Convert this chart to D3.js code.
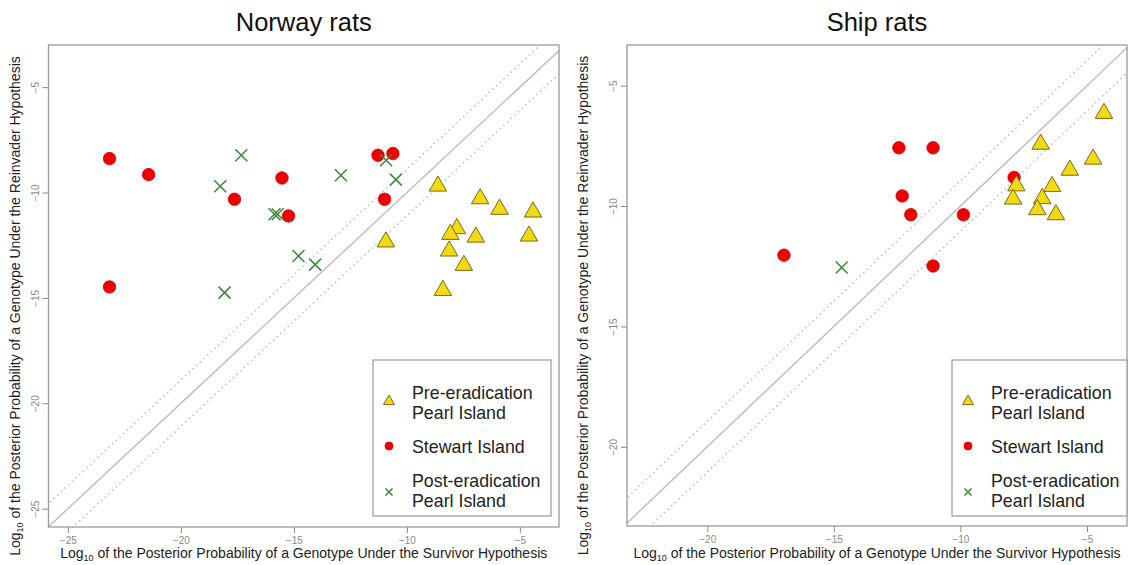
<!DOCTYPE html>
<html><head><meta charset="utf-8">
<script src="https://cdn.jsdelivr.net/npm/d3@7"></script>
<style>body{margin:0;background:#fff}svg{display:block;font-family:"Liberation Sans",Arial,sans-serif}</style>
</head><body><svg id="c" width="1129" height="565"></svg>
<script>
// ---- data (log10 posterior probabilities) ----
const panelTitles = ["Norway rats", "Ship rats"];
const legendLabels = [["Pre-eradication","Pearl Island"],["Stewart Island"],["Post-eradication","Pearl Island"]];
const xLabel = "of the Posterior Probability of a Genotype Under the Survivor Hypothesis";
const yLabel = "of the Posterior Probability of a Genotype Under the Reinvader Hypothesis";

const norwayPre = [[-8.63,-9.66],[-6.76,-10.26],[-5.90,-10.76],[-4.42,-10.89],[-7.79,-11.68],[-8.08,-11.95],
  [-6.95,-12.08],[-4.60,-12.03],[-10.93,-12.31],[-8.13,-12.74],[-7.48,-13.42],[-8.41,-14.61]];
const norwayStewart = [[-23.16,-8.39],[-21.43,-9.15],[-17.63,-10.32],[-15.53,-9.31],[-15.24,-11.11],
  [-11.28,-8.23],[-10.62,-8.15],[-10.99,-10.32],[-23.16,-14.48]];
const norwayPost = [[-17.33,-8.23],[-18.26,-9.70],[-15.86,-11.03],[-15.72,-11.03],[-14.80,-13.01],
  [-14.06,-13.42],[-18.07,-14.75],[-10.92,-8.47],[-12.92,-9.18],[-10.49,-9.39]];

const shipPre = [[-4.33,-6.12],[-6.83,-7.40],[-4.76,-8.02],[-5.68,-8.48],[-7.79,-9.13],[-6.38,-9.16],
  [-7.92,-9.68],[-6.77,-9.66],[-6.96,-10.12],[-6.23,-10.33]];
const shipStewart = [[-12.43,-7.58],[-11.08,-7.58],[-12.30,-9.58],[-11.96,-10.36],[-9.88,-10.36],
  [-11.08,-12.49],[-7.88,-8.81],[-16.97,-12.04]];
const shipPost = [[-14.69,-12.55]];

const norwayTicks = [-25,-20,-15,-10,-5];
const shipTicks = [-20,-15,-10,-5];
const bandOffset = [1.1, 1.05];

// ---- drawing ----
const svg = d3.select("#c");
const panels = [
  {title:panelTitles[0], pre:norwayPre, st:norwayStewart, post:norwayPost, ticks:norwayTicks,
   xd:[-25.86,-3.27], yd:[-25.87,-3.0], x0:48.5, x1:559, y0:45, y1:527, band:bandOffset[0],
   leg:{x:373,y:360,w:178,h:156}, ylx:15},
  {title:panelTitles[1], pre:shipPre, st:shipStewart, post:shipPost, ticks:shipTicks,
   xd:[-23.17,-3.42], yd:[-23.29,-3.31], x0:627, x1:1127, y0:45, y1:526, band:bandOffset[1],
   leg:{x:952,y:360,w:175,h:156}, ylx:583}
];

const triPath = s => { const h = s*0.866; return `M0,${-h*0.62}L${s/2},${h*0.38}L${-s/2},${h*0.38}Z`; };
const crossPath = s => `M${-s/2},${-s/2}L${s/2},${s/2}M${-s/2},${s/2}L${s/2},${-s/2}`;

function drawMarkers(g, kind, data, x, y, size){
  if(kind==="pre"){
    g.selectAll(null).data(data).enter().append("path")
      .attr("d", triPath(size)).attr("transform", d=>`translate(${x(d[0])},${y(d[1])})`)
      .attr("fill","#f2da12").attr("stroke","#7a6a1a").attr("stroke-width",1);
  } else if(kind==="st"){
    g.selectAll(null).data(data).enter().append("circle")
      .attr("cx", d=>x(d[0])).attr("cy", d=>y(d[1])).attr("r", size/2)
      .attr("fill","#ee0000").attr("stroke","#d40000").attr("stroke-width",0.8);
  } else {
    g.selectAll(null).data(data).enter().append("path")
      .attr("d", crossPath(size)).attr("transform", d=>`translate(${x(d[0])},${y(d[1])})`)
      .attr("fill","none").attr("stroke","#3f8a3f").attr("stroke-width",1.6);
  }
}

panels.forEach(p=>{
  const x = d3.scaleLinear().domain(p.xd).range([p.x0,p.x1]);
  const y = d3.scaleLinear().domain(p.yd).range([p.y1,p.y0]);
  const g = svg.append("g");
  const cx = (p.x0+p.x1)/2, cy = (p.y0+p.y1)/2;

  // title
  g.append("text").attr("x",cx).attr("y",31).attr("text-anchor","middle")
    .attr("font-size",25.5).attr("fill","#111").text(p.title);

  // clip for diagonal lines
  const cid = "clip"+Math.round(p.x0);
  svg.append("clipPath").attr("id",cid).append("rect")
    .attr("x",p.x0).attr("y",p.y0).attr("width",p.x1-p.x0).attr("height",p.y1-p.y0);
  const lg = g.append("g").attr("clip-path",`url(#${cid})`);
  const lo = Math.min(p.xd[0],p.yd[0])-3, hi = Math.max(p.xd[1],p.yd[1])+3;
  [[0,"none",1.4],[p.band,"1.5,3.5",1.5],[-p.band,"1.5,3.5",1.5]].forEach(([o,dash,w])=>{
    lg.append("line").attr("x1",x(lo)).attr("y1",y(lo+o)).attr("x2",x(hi)).attr("y2",y(hi+o))
      .attr("stroke","#bcbcbc").attr("stroke-width",w).attr("stroke-dasharray",dash);
  });

  // axes
  const xa = g.append("g").attr("transform",`translate(0,${p.y1})`)
    .call(d3.axisBottom(x).tickValues(p.ticks).tickSize(6).tickPadding(4).tickFormat(d3.format("d")));
  const ya = g.append("g").attr("transform",`translate(${p.x0},0)`)
    .call(d3.axisLeft(y).tickValues(p.ticks).tickSize(6).tickPadding(4).tickFormat(d3.format("d")));
  [xa,ya].forEach(a=>{
    a.select(".domain").remove();
    a.selectAll(".tick line").attr("stroke","#888");
    a.selectAll(".tick text").attr("fill","#888").attr("font-size",10)
      .attr("font-family","'Liberation Sans',Arial,sans-serif");
  });
  ya.selectAll(".tick text").attr("text-anchor","middle").attr("x",null).attr("dy",null)
    .attr("transform","translate(-10,0) rotate(-90)");

  // box
  g.append("rect").attr("x",p.x0).attr("y",p.y0).attr("width",p.x1-p.x0).attr("height",p.y1-p.y0)
    .attr("fill","none").attr("stroke","#9a9a9a").attr("stroke-width",1.3);

  // axis labels
  const xl = g.append("text").attr("x",cx).attr("y",558).attr("text-anchor","middle")
    .attr("font-size",14).attr("fill","#222");
  xl.append("tspan").text("Log");
  xl.append("tspan").attr("font-size",9).attr("dy",3).text("10");
  xl.append("tspan").attr("dy",-3).text(" "+xLabel);
  const yl = g.append("text").attr("transform",`translate(${p.ylx+5},${cy+20}) rotate(-90)`)
    .attr("text-anchor","middle").attr("font-size",14).attr("fill","#222");
  yl.append("tspan").text("Log");
  yl.append("tspan").attr("font-size",9).attr("dy",3).text("10");
  yl.append("tspan").attr("dy",-3).text(" "+yLabel);

  // points
  drawMarkers(g,"st",p.st,x,y,12.5);
  drawMarkers(g,"post",p.post,x,y,12);
  drawMarkers(g,"pre",p.pre,x,y,17.5);

  // legend
  const L = p.leg;
  const lgd = g.append("g");
  lgd.append("rect").attr("x",L.x).attr("y",L.y).attr("width",L.w).attr("height",L.h)
    .attr("fill","#fff").attr("stroke","#9a9a9a").attr("stroke-width",1.2);
  const rows = [{k:"pre",ly:[393,413],my:401,s:11},{k:"st",ly:[447],my:446,s:8},{k:"post",ly:[481,501],my:492,s:7}];
  rows.forEach((r,i)=>{
    const mg = lgd.append("g");
    const ix = d3.scaleLinear().domain([0,1]).range([L.x+16,L.x+17]);
    const iy = d3.scaleLinear().domain([0,1]).range([r.my,r.my+1]);
    drawMarkers(mg,r.k,[[0,0]],ix,iy,r.s);
    legendLabels[i].forEach((t,j)=>{
      lgd.append("text").attr("x",L.x+39).attr("y",r.ly[j]+6).attr("font-size",17.8)
        .attr("fill","#222").text(t);
    });
  });
});
</script></body></html>
